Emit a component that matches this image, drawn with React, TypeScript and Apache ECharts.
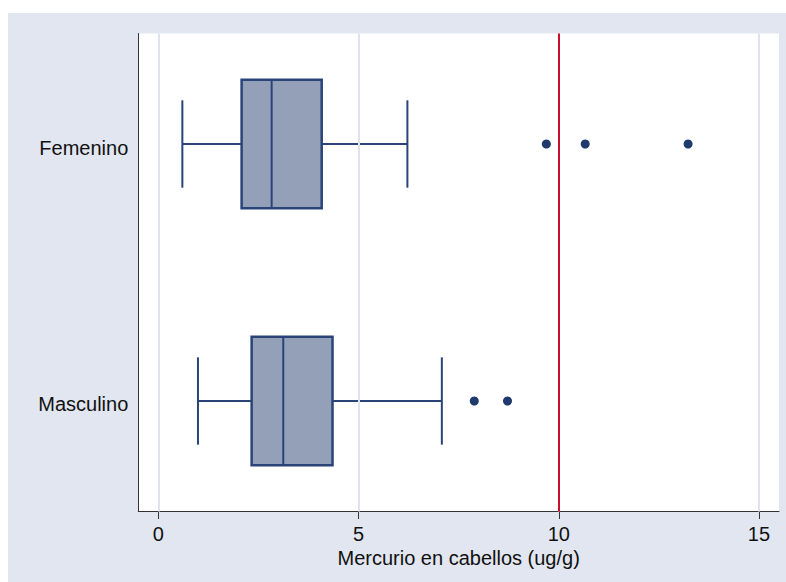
import React, { useEffect, useRef } from "react";
import * as echarts from "echarts";

// Groups on the vertical axis (0 = bottom row, 1 = top row)
const groups = ["Masculino", "Femenino"];

// Box-plot summaries per group, in ug/g
const lowerWhisker = [0.99, 0.6];
const q1 = [2.33, 2.08];
const median = [3.12, 2.83];
const q3 = [4.35, 4.08];
const upperWhisker = [7.08, 6.22];

// Points beyond the whiskers
const outliersMasculino = [7.89, 8.72];
const outliersFemenino = [9.69, 10.66, 13.23];

// Reference limit and x tick labels
const referenceLimit = 10;
const xTickValues = [0, 5, 10, 15];

const axisTitle = "Mercurio en cabellos (ug/g)";

const NAVY = "#2a4479";
const BOX_FILL = "#93a0b8";
const DOT = "#1f3a6c";
const GRID_LINE = "#dfe3ee";
const RED = "#c8102e";
const FONT = "'Liberation Sans', Arial, sans-serif";

const BOX_HALF = 0.25;
const CAP_HALF = 0.17;

export default function App() {
  const ref = useRef<HTMLDivElement>(null);

  useEffect(() => {
    if (!ref.current) return;
    const chart = echarts.init(ref.current, null, { renderer: "svg" });

    const boxData = groups.map((_, i) => [
      i,
      lowerWhisker[i],
      q1[i],
      median[i],
      q3[i],
      upperWhisker[i],
    ]);

    const outlierData = [
      ...outliersMasculino.map((v) => [v, 0]),
      ...outliersFemenino.map((v) => [v, 1]),
    ];

    const option: any = {
      animation: false,
      backgroundColor: "#e1e6f0",
      grid: {
        left: 130.3,
        right: 7,
        top: 20.5,
        bottom: 70.5,
        show: true,
        backgroundColor: "#ffffff",
        borderWidth: 0,
        containLabel: false,
      },
      xAxis: {
        type: "value",
        min: -0.5,
        max: 15.5,
        name: axisTitle,
        nameLocation: "middle",
        nameGap: 31,
        nameTextStyle: { fontFamily: FONT, fontSize: 20, color: "#111" },
        axisLine: { show: true, onZero: false, lineStyle: { color: "#333", width: 1 } },
        axisTick: {
          show: true,
          customValues: xTickValues,
          length: 7.5,
          lineStyle: { color: "#333", width: 1 },
        },
        axisLabel: {
          customValues: xTickValues,
          margin: 12,
          fontFamily: FONT,
          fontSize: 20,
          color: "#111",
        },
        splitLine: { show: false },
      },
      yAxis: {
        type: "value",
        min: -0.43,
        max: 1.43,
        axisLine: { show: true, onZero: false, lineStyle: { color: "#333", width: 1 } },
        axisTick: { show: false },
        axisLabel: {
          customValues: [0, 1],
          formatter: (v: number) => "{g|" + (groups[Math.round(v)] ?? "") + "}",
          margin: 10,
          rich: {
            g: {
              fontFamily: FONT,
              fontSize: 20,
              color: "#111",
              padding: [7, 0, 0, 0],
            },
          },
        },
        splitLine: { show: false },
      },
      series: [
        {
          // vertical grid lines at each labelled tick
          type: "line",
          data: [],
          z: 1,
          markLine: {
            silent: true,
            symbol: "none",
            label: { show: false },
            lineStyle: { color: GRID_LINE, width: 2, type: "solid" },
            data: xTickValues.map((v) => ({ xAxis: v })),
          },
        },
        {
          type: "custom",
          z: 3,
          data: boxData,
          encode: { x: [1, 2, 3, 4, 5], y: 0 },
          renderItem: (_params: any, api: any) => {
            const y = api.value(0);
            const lo = api.coord([api.value(1), y]);
            const a = api.coord([api.value(2), y]);
            const m = api.coord([api.value(3), y]);
            const b = api.coord([api.value(4), y]);
            const hi = api.coord([api.value(5), y]);
            const boxH = api.size([0, BOX_HALF])[1];
            const capH = api.size([0, CAP_HALF])[1];
            const cy = lo[1];
            const line = (x1: number, y1: number, x2: number, y2: number) => ({
              type: "line",
              shape: { x1, y1, x2, y2 },
              style: { stroke: NAVY, lineWidth: 2 },
            });
            return {
              type: "group",
              children: [
                line(lo[0], cy, a[0], cy),
                line(b[0], cy, hi[0], cy),
                line(lo[0], cy - capH, lo[0], cy + capH),
                line(hi[0], cy - capH, hi[0], cy + capH),
                {
                  type: "rect",
                  shape: { x: a[0], y: cy - boxH, width: b[0] - a[0], height: 2 * boxH },
                  style: { fill: BOX_FILL, stroke: NAVY, lineWidth: 2.5 },
                },
                line(m[0], cy - boxH, m[0], cy + boxH),
              ],
            };
          },
        },
        {
          type: "scatter",
          z: 4,
          data: outlierData,
          symbol: "circle",
          symbolSize: 9,
          itemStyle: { color: DOT, opacity: 1 },
          markLine: {
            silent: true,
            symbol: "none",
            label: { show: false },
            lineStyle: { color: RED, width: 2, type: "solid" },
            data: [{ xAxis: referenceLimit }],
          },
        },
      ],
    };

    chart.setOption(option);
    return () => chart.dispose();
  }, []);

  return (
    <div
      ref={ref}
      style={{ position: "absolute", left: 8, top: 13, width: 778, height: 569 }}
    />
  );
}
